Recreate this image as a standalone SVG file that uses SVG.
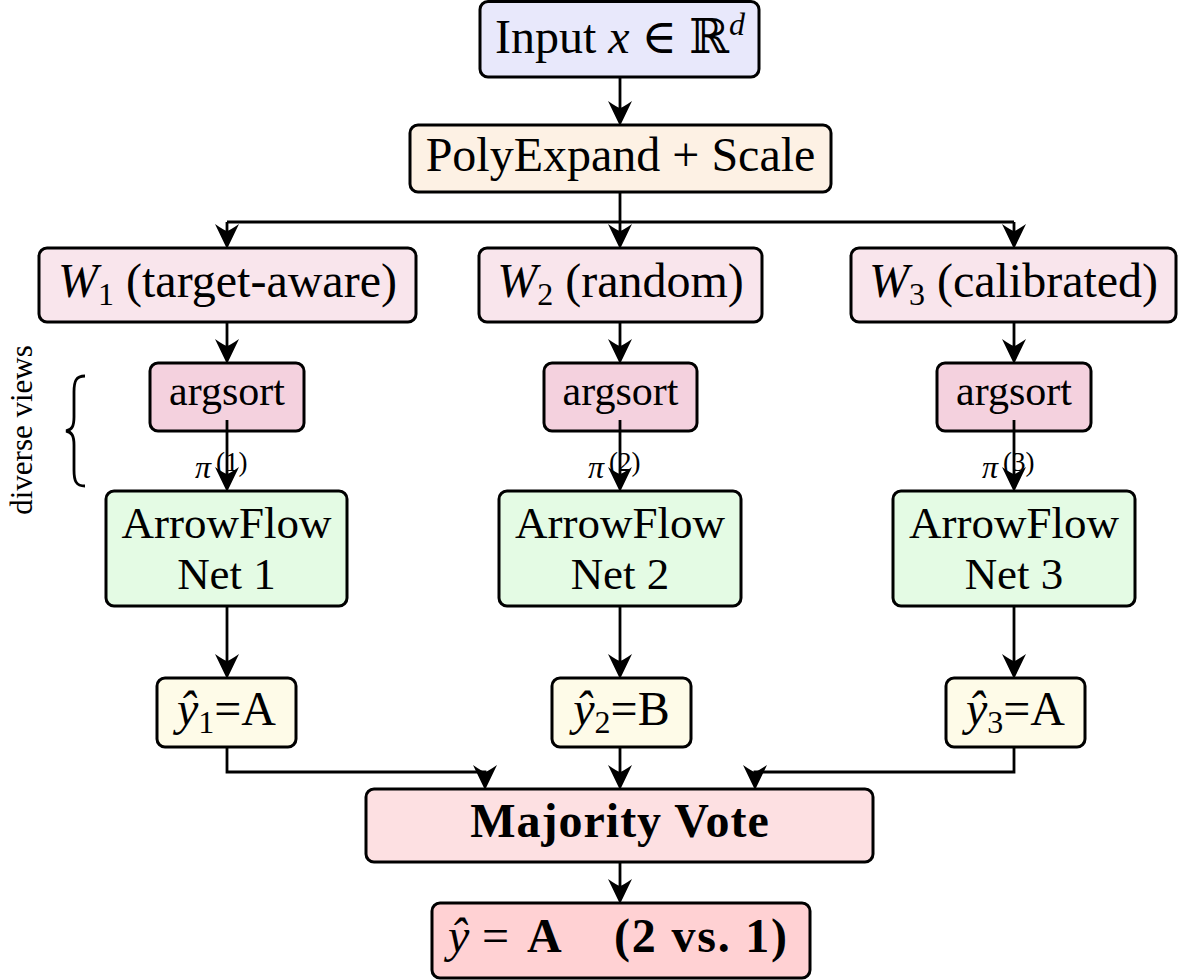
<svg xmlns="http://www.w3.org/2000/svg" width="1178" height="980" viewBox="0 0 1178 980">
  <defs>
    <style>
      .box { stroke: #000; stroke-width: 3; }
      .t { font-family: "Liberation Serif", "DejaVu Serif", serif; font-size: 48px; fill: #000; text-anchor: middle; }
      .af { font-size: 45px; }
      .as { font-size: 42px; }
      .it { font-style: italic; }
      .sub { font-size: 32px; }
      .bold { font-weight: bold; }
      .pi { font-family: "Liberation Serif", "DejaVu Serif", serif; font-size: 32px; font-style: italic; fill: #000; }
      .pis { font-family: "Liberation Serif", "DejaVu Serif", serif; font-size: 27px; fill: #000; }
      .conn path { fill: none; stroke: #000; stroke-width: 2.8; }
      .arr { marker-end: url(#head); }
    </style>
    <marker id="head" markerUnits="userSpaceOnUse" viewBox="-28 -14 30 28" markerWidth="30" markerHeight="28" refX="-12" refY="0" orient="auto">
      <path d="M1,0 L-24,-12 Q-18,-3.5 -17,0 Q-18,3.5 -24,12 Z" fill="#000"/>
    </marker>
  </defs>

  <rect width="1178" height="980" fill="#fff"/>

  <g id="input">
    <rect class="box" x="480" y="1.5" width="279" height="75.5" rx="8" fill="#e8e8fb"/>
    <text class="t" x="620" y="53">Input <tspan class="it">x</tspan> ∈ ℝ<tspan class="it sub" dy="-18">d</tspan></text>
  </g>

  <g id="polyexpand">
    <rect class="box" x="410" y="125" width="421" height="67" rx="8" fill="#fdf1e4"/>
    <text class="t" x="620.5" y="171">PolyExpand + Scale</text>
  </g>

  <g id="w1">
    <rect class="box" x="39" y="248" width="377" height="74" rx="8" fill="#f9e5ec"/>
    <text class="t" x="227.5" y="297"><tspan class="it">W</tspan><tspan class="sub" dy="8">1</tspan><tspan dy="-8"> (target-aware)</tspan></text>
  </g>
  <g id="w2">
    <rect class="box" x="479" y="248" width="283" height="74" rx="8" fill="#f9e5ec"/>
    <text class="t" x="620.5" y="297"><tspan class="it">W</tspan><tspan class="sub" dy="8">2</tspan><tspan dy="-8"> (random)</tspan></text>
  </g>
  <g id="w3">
    <rect class="box" x="851" y="248" width="325" height="74" rx="8" fill="#f9e5ec"/>
    <text class="t" x="1013.5" y="297"><tspan class="it">W</tspan><tspan class="sub" dy="8">3</tspan><tspan dy="-8"> (calibrated)</tspan></text>
  </g>

  <g id="argsort1">
    <rect class="box" x="150" y="363" width="154" height="68" rx="8" fill="#f4d1de"/>
    <text class="t as" x="227" y="405">argsort</text>
  </g>
  <g id="argsort2">
    <rect class="box" x="544" y="363" width="153" height="68" rx="8" fill="#f4d1de"/>
    <text class="t as" x="620.5" y="405">argsort</text>
  </g>
  <g id="argsort3">
    <rect class="box" x="937" y="363" width="154" height="68" rx="8" fill="#f4d1de"/>
    <text class="t as" x="1014" y="405">argsort</text>
  </g>

  <g id="net1">
    <rect class="box" x="106" y="491" width="241" height="115" rx="8" fill="#e4fbe4"/>
    <text class="t af" x="226.5" y="538">ArrowFlow</text>
    <text class="t af" x="226.5" y="589">Net 1</text>
  </g>
  <g id="net2">
    <rect class="box" x="499" y="491" width="242" height="115" rx="8" fill="#e4fbe4"/>
    <text class="t af" x="620" y="538">ArrowFlow</text>
    <text class="t af" x="620" y="589">Net 2</text>
  </g>
  <g id="net3">
    <rect class="box" x="893" y="491" width="242" height="115" rx="8" fill="#e4fbe4"/>
    <text class="t af" x="1014" y="538">ArrowFlow</text>
    <text class="t af" x="1014" y="589">Net 3</text>
  </g>

  <g id="y1">
    <rect class="box" x="157" y="678" width="139" height="69" rx="8" fill="#fefbe8"/>
    <text class="t" x="226.5" y="725"><tspan class="it">ŷ</tspan><tspan class="sub" dy="8">1</tspan><tspan dy="-8">=A</tspan></text>
  </g>
  <g id="y2">
    <rect class="box" x="552" y="678" width="139" height="69" rx="8" fill="#fefbe8"/>
    <text class="t" x="621.5" y="725"><tspan class="it">ŷ</tspan><tspan class="sub" dy="8">2</tspan><tspan dy="-8">=B</tspan></text>
  </g>
  <g id="y3">
    <rect class="box" x="946" y="678" width="139" height="69" rx="8" fill="#fefbe8"/>
    <text class="t" x="1015.5" y="725"><tspan class="it">ŷ</tspan><tspan class="sub" dy="8">3</tspan><tspan dy="-8">=A</tspan></text>
  </g>

  <g id="majority">
    <rect class="box" x="366" y="789" width="507" height="73" rx="8" fill="#fde0e2"/>
    <text class="t bold" x="620" y="837" letter-spacing="1">Majority Vote</text>
  </g>

  <g id="result">
    <rect class="box" x="432" y="903" width="378" height="75" rx="8" fill="#ffd1d3"/>
    <text class="t" y="952" style="text-anchor:start"><tspan class="it" x="448">ŷ</tspan><tspan x="482">=</tspan><tspan class="bold" x="527">A</tspan><tspan class="bold" x="614" letter-spacing="1.8">(2 vs. 1)</tspan></text>
  </g>

  <g id="connectors" class="conn">
    <path class="arr" d="M620,77 V113"/>
    <path class="arr" d="M620,192 V236"/>
    <path d="M227,222 H1014"/>
    <path class="arr" d="M227,222 V236"/>
    <path class="arr" d="M1014,222 V236"/>
    <path class="arr" d="M227,322 V351"/>
    <path class="arr" d="M620,322 V351"/>
    <path class="arr" d="M1014,322 V351"/>
    <path class="arr" d="M227,420 V479"/>
    <path class="arr" d="M620,420 V479"/>
    <path class="arr" d="M1014,420 V479"/>
    <path class="arr" d="M227,606 V666"/>
    <path class="arr" d="M620,606 V666"/>
    <path class="arr" d="M1014,606 V666"/>
    <path class="arr" d="M227,747 V772 H485 V777"/>
    <path class="arr" d="M620,747 V777"/>
    <path class="arr" d="M1014,747 V772 H755 V777"/>
    <path class="arr" d="M620,862 V891"/>
  </g>

  <g id="pi-labels">
    <text class="pi" x="195" y="478">π</text><text class="pis" x="216" y="471">(1)</text>
    <text class="pi" x="588" y="478">π</text><text class="pis" x="609" y="471">(2)</text>
    <text class="pi" x="982" y="478">π</text><text class="pis" x="1003" y="471">(3)</text>
  </g>

  <g id="diverse-views">
    <path d="M85,376 C76,376 74,381 74,392 L74,417 C74,426 72,430 66,431 C72,432 74,436 74,445 L74,470 C74,481 76,486 85,486" fill="none" stroke="#000" stroke-width="2.8"/>
    <text transform="translate(32,430) rotate(-90)" style="font-family:'Liberation Serif','DejaVu Serif',serif;font-size:31px;text-anchor:middle;fill:#000">diverse views</text>
  </g>
</svg>
